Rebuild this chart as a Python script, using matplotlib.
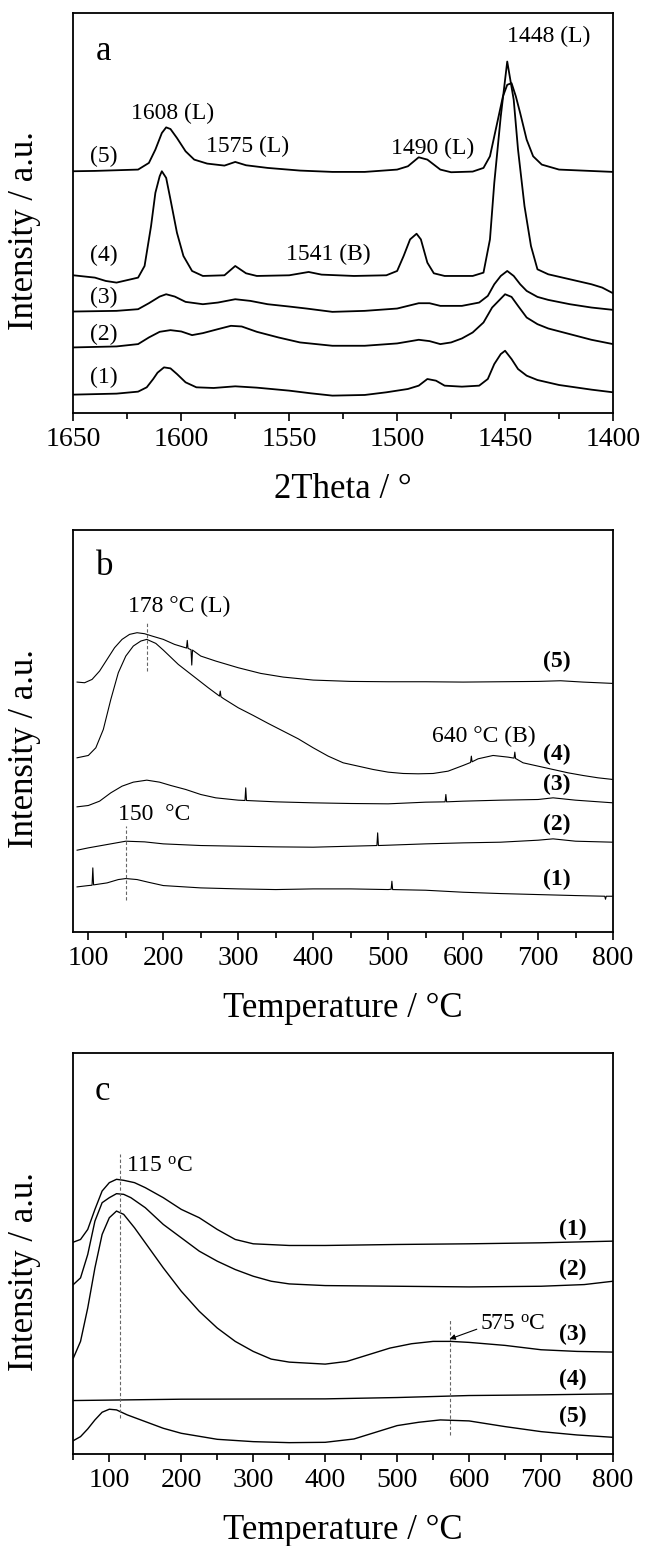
import matplotlib.pyplot as plt
from matplotlib.ticker import MultipleLocator

# ---- panel a : FTIR of adsorbed pyridine ----
a_curve1 = [(1650, 56), (1630, 59), (1620, 65), (1616, 78), (1613, 103), (1611, 122), (1608, 138),
            (1605, 135), (1602, 118), (1598, 93), (1593, 78), (1585, 76), (1575, 81), (1565, 77),
            (1550, 68), (1540, 60), (1530, 53), (1515, 55), (1505, 63), (1495, 73), (1490, 83),
            (1486, 103), (1482, 98), (1478, 83), (1470, 80), (1462, 83), (1458, 103), (1455, 148),
            (1452, 178), (1450, 188), (1447, 163), (1444, 133), (1440, 113), (1435, 100), (1425, 85),
            (1410, 71), (1400, 63)]
a_curve2 = [(1650, 198), (1630, 201), (1620, 208), (1615, 228), (1610, 245), (1605, 250), (1600, 246),
            (1595, 235), (1590, 241), (1583, 253), (1577, 263), (1572, 261), (1565, 245), (1555, 228),
            (1545, 213), (1530, 203), (1515, 203), (1500, 210), (1490, 221), (1485, 217), (1480, 208),
            (1475, 213), (1470, 225), (1465, 243), (1460, 273), (1456, 318), (1453, 338), (1450, 358),
            (1447, 350), (1444, 323), (1440, 288), (1435, 268), (1430, 255), (1420, 238), (1410, 221),
            (1400, 208)]
a_curve3 = [(1650, 306), (1630, 308), (1620, 313), (1615, 331), (1610, 351), (1607, 358), (1603, 351),
            (1598, 335), (1590, 328), (1583, 333), (1575, 343), (1568, 338), (1560, 328), (1550, 321),
            (1542, 315), (1530, 305), (1515, 308), (1500, 315), (1490, 331), (1485, 331), (1480, 323),
            (1470, 323), (1462, 333), (1458, 353), (1455, 388), (1452, 413), (1449, 428), (1446, 413),
            (1443, 388), (1440, 368), (1435, 350), (1430, 341), (1420, 328), (1410, 318), (1400, 311)]
a_curve4 = [(1650, 415), (1640, 408), (1635, 398), (1630, 393), (1620, 408), (1617, 443), (1614, 563),
            (1612, 663), (1610, 713), (1609, 728), (1607, 708), (1605, 643), (1602, 543), (1599, 473),
            (1595, 428), (1590, 413), (1580, 415), (1575, 443), (1570, 421), (1565, 413), (1550, 415),
            (1541, 425), (1535, 417), (1520, 413), (1505, 415), (1500, 428), (1497, 473), (1494, 523),
            (1491, 540), (1489, 523), (1486, 453), (1483, 421), (1478, 413), (1465, 413), (1460, 423),
            (1457, 523), (1455, 693), (1452, 893), (1449, 1058), (1446, 943), (1444, 793), (1441, 623),
            (1438, 503), (1435, 433), (1430, 418), (1420, 403), (1410, 388), (1405, 378), (1400, 361)]
a_curve5 = [(1650, 728), (1640, 729), (1620, 733), (1615, 753), (1612, 793), (1609, 843), (1607, 860),
            (1605, 855), (1602, 828), (1598, 788), (1594, 763), (1588, 751), (1580, 745), (1575, 756),
            (1570, 746), (1560, 738), (1545, 730), (1530, 726), (1515, 726), (1500, 733), (1495, 743),
            (1490, 770), (1486, 763), (1480, 733), (1475, 725), (1465, 727), (1460, 738), (1457, 773),
            (1454, 863), (1451, 953), (1449, 988), (1447, 993), (1445, 953), (1443, 903), (1440, 823),
            (1437, 773), (1433, 748), (1425, 733), (1400, 726)]
a_curves = [a_curve1, a_curve2, a_curve3, a_curve4, a_curve5]
a_tags = ['(1)', '(2)', '(3)', '(4)', '(5)']
a_tag_y = [108, 238, 348, 475, 773]
a_peaks = ['1608 (L)', '1575 (L)', '1541 (B)', '1490 (L)', '1448 (L)']
a_peak_pos = [(1604, 903), (1569.5, 803), (1532, 478), (1483.6, 798), (1430, 1133)]

# ---- panel b : NH3-TPD ----
b_curve1 = [(85, 135), (100, 139), (105, 140), (106, 192), (107, 141), (125, 147), (140, 157),
            (150, 160), (165, 157), (180, 149), (200, 139), (250, 132), (300, 129), (350, 127),
            (400, 129), (450, 129), (500, 127), (504, 128), (505, 152), (506, 127), (550, 125),
            (600, 119), (650, 115), (700, 112), (750, 109), (789, 107), (790, 98), (791, 107), (800, 107)]
b_curve2 = [(85, 245), (100, 252), (125, 262), (150, 272), (175, 270), (200, 264), (250, 259),
            (300, 257), (350, 255), (400, 254), (450, 257), (485, 259), (486, 297), (487, 259),
            (500, 260), (550, 264), (600, 267), (650, 269), (700, 275), (720, 279), (750, 272), (800, 269)]
b_curve3 = [(85, 375), (100, 379), (115, 392), (130, 417), (145, 437), (160, 449), (178, 455),
            (195, 449), (210, 439), (230, 427), (250, 412), (270, 402), (300, 395), (309, 394),
            (310, 432), (311, 394), (350, 390), (400, 387), (450, 385), (500, 384), (550, 389),
            (576, 390), (577, 412), (578, 390), (600, 392), (650, 395), (700, 397), (720, 402),
            (750, 395), (800, 387)]
b_curve4 = [(85, 522), (100, 529), (110, 552), (120, 607), (130, 697), (140, 777), (150, 827),
            (160, 857), (170, 872), (178, 877), (190, 865), (200, 845), (220, 802), (240, 767),
            (260, 732), (275, 707), (276, 722), (277, 705), (280, 700), (300, 672), (320, 649),
            (340, 625), (360, 602), (380, 579), (400, 552), (420, 527), (440, 507), (460, 497),
            (480, 487), (500, 479), (520, 475), (540, 474), (560, 475), (580, 482), (600, 499),
            (610, 508), (611, 527), (612, 510), (620, 519), (640, 529), (660, 524), (668, 521),
            (669, 539), (670, 520), (680, 507), (700, 497), (720, 487), (740, 477), (760, 469),
            (780, 462), (800, 457)]
b_curve5 = [(85, 749), (95, 747), (105, 757), (115, 782), (125, 817), (135, 852), (145, 877),
            (155, 892), (165, 897), (175, 894), (185, 887), (200, 877), (215, 862), (231, 851),
            (232, 874), (233, 850), (237, 846), (238, 800), (239, 845), (250, 827), (270, 812),
            (300, 792), (330, 775), (360, 764), (400, 755), (450, 751), (500, 750), (550, 750),
            (600, 749), (650, 750), (700, 751), (730, 753), (760, 749), (800, 745)]
b_curves = [b_curve1, b_curve2, b_curve3, b_curve4, b_curve5]
b_tag_y = [157, 322, 442, 532, 812]
b_peaks = ['178 °C (L)', '640 °C (B)', '150  °C']
b_peak_pos = [(221, 977), (628, 587), (188, 352)]
b_marks = [(178, 782, 932), (150, 97, 317)]

# ---- panel c : NH3-TPD ----
c_curve1 = [(50, 634), (60, 642), (70, 672), (80, 732), (90, 787), (100, 812), (110, 822), (120, 819),
            (135, 812), (150, 797), (175, 767), (200, 732), (225, 707), (250, 672), (275, 642),
            (300, 629), (350, 624), (400, 624), (500, 627), (600, 629), (700, 632), (800, 637)]
c_curve2 = [(50, 507), (60, 527), (70, 597), (80, 697), (90, 752), (100, 767), (110, 779), (120, 777),
            (130, 767), (150, 737), (175, 687), (200, 647), (225, 607), (250, 577), (275, 552),
            (300, 532), (325, 517), (350, 509), (400, 504), (500, 502), (600, 500), (700, 502),
            (760, 507), (800, 517)]
c_curve3 = [(50, 287), (60, 337), (70, 437), (80, 557), (90, 657), (100, 707), (110, 727), (120, 717),
            (135, 677), (150, 632), (175, 557), (200, 487), (225, 427), (250, 377), (275, 337),
            (300, 307), (325, 284), (350, 275), (400, 269), (430, 277), (460, 297), (490, 317),
            (520, 330), (550, 337), (575, 337), (600, 334), (650, 325), (700, 312), (750, 307), (800, 305)]
c_curve4 = [(50, 160), (200, 164), (400, 165), (500, 169), (600, 175), (700, 177), (800, 180)]
c_curve5 = [(50, 40), (60, 52), (70, 75), (80, 102), (90, 125), (100, 134), (110, 132), (125, 117),
            (150, 97), (175, 77), (200, 62), (250, 44), (300, 37), (350, 34), (400, 35), (440, 45),
            (470, 65), (500, 85), (530, 95), (560, 102), (600, 99), (650, 82), (700, 67), (750, 57),
            (800, 50)]
c_curves = [c_curve1, c_curve2, c_curve3, c_curve4, c_curve5]
c_tag_y = [672, 552, 357, 222, 112]
c_marks = [(115, 107, 897), (573, 57, 404)]

plt.rcParams['font.family'] = ['Liberation Serif', 'DejaVu Serif']
plt.rcParams['mathtext.default'] = 'regular'

fig = plt.figure(figsize=(6.45, 15.46), dpi=100)
ax_a = fig.add_axes([0.1137, 0.7327, 0.8367, 0.2591])
ax_b = fig.add_axes([0.1137, 0.3972, 0.8367, 0.2600])
ax_c = fig.add_axes([0.1137, 0.0595, 0.8367, 0.2594])


def style_axes(ax, xlim, ylim, major, minor, xlabel):
    ax.set_xlim(xlim)
    ax.set_ylim(ylim)
    ax.set_yticks([])
    ax.xaxis.set_major_locator(MultipleLocator(major))
    ax.xaxis.set_minor_locator(MultipleLocator(minor))
    ax.tick_params(axis='x', which='major', direction='out', length=6, width=1.2,
                   labelsize=20, pad=4)
    ax.tick_params(axis='x', which='minor', direction='out', length=4, width=1.2)
    for sp in ax.spines.values():
        sp.set_linewidth(1.3)
    ax.set_xlabel(xlabel, fontsize=25, labelpad=15)
    ax.set_ylabel('Intensity / a.u.', fontsize=25)
    ax.yaxis.set_label_coords(-0.06, 0.455)


def draw(ax, curve, lw):
    xs, ys = zip(*curve)
    ax.plot(xs, ys, color='black', lw=lw)


# panel a
for curve in a_curves:
    draw(ax_a, curve, 1.3)
for tag, y in zip(a_tags, a_tag_y):
    ax_a.text(1636, y, tag, fontsize=17, ha='center', va='center')
for txt, (x, y) in zip(a_peaks, a_peak_pos):
    ax_a.text(x, y, txt, fontsize=17, ha='center', va='center')
ax_a.text(1636, 1089, 'a', fontsize=25, ha='center', va='center')
style_axes(ax_a, (1650, 1400), (0, 1205), 50, 25, '2Theta / °')

# panel b
for curve in b_curves:
    draw(ax_b, curve, 0.8)
for tag, y in zip(a_tags, b_tag_y):
    ax_b.text(725, y, tag, fontsize=17, fontweight='bold', ha='center', va='center')
for txt, (x, y) in zip(b_peaks, b_peak_pos):
    ax_b.text(x, y, txt, fontsize=17, ha='center', va='center')
for x, y0, y1 in b_marks:
    ax_b.plot([x, x], [y0, y1], color='0.4', lw=0.8, ls=(0, (3, 2)))
ax_b.text(122, 1094, 'b', fontsize=25, ha='center', va='center')
style_axes(ax_b, (80, 800), (0, 1205), 100, 50, 'Temperature / °C')

# panel c
for curve in c_curves:
    draw(ax_c, curve, 1.0)
for tag, y in zip(a_tags, c_tag_y):
    ax_c.text(744, y, tag, fontsize=17, fontweight='bold', ha='center', va='center')
for x, y0, y1 in c_marks:
    ax_c.plot([x, x], [y0, y1], color='0.4', lw=0.8, ls=(0, (3, 2)))
ax_c.text(170, 860, '115 $^{o}$C', fontsize=17, ha='center', va='center')
ax_c.annotate('575 $^{o}$C', xy=(573, 344), xytext=(660, 389), fontsize=17,
              ha='center', va='center',
              arrowprops=dict(arrowstyle='-|>', color='black', lw=0.8,
                              shrinkA=0, shrinkB=0, mutation_scale=8,
                              relpos=(0.0, 0.3)))
ax_c.text(91, 1084, 'c', fontsize=25, ha='center', va='center')
style_axes(ax_c, (50, 800), (0, 1200), 100, 50, 'Temperature / °C')

fig.savefig('out.png', dpi=100)
